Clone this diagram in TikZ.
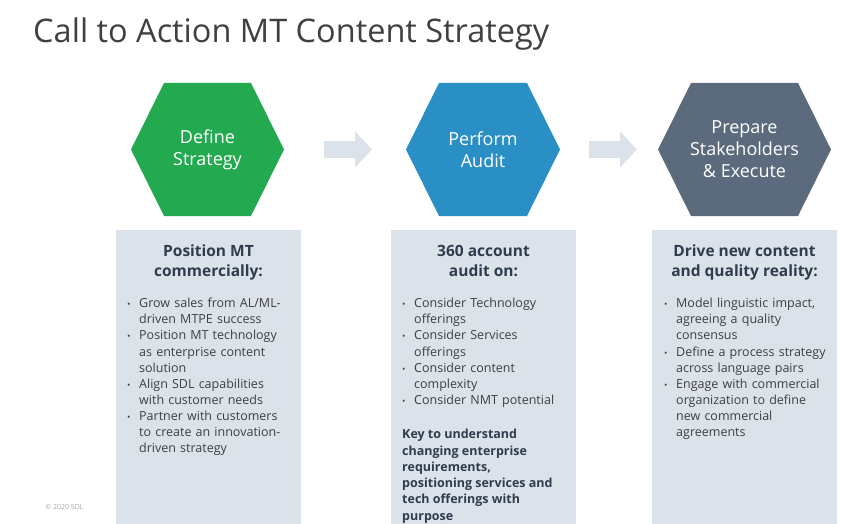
\documentclass[tikz,border=0pt]{standalone}
\usepackage{fontspec}
\setmainfont{Open Sans}
\usepackage{tikz}
\usetikzlibrary{arrows.meta,positioning,calc}
\definecolor{sdlgreen}{HTML}{23A950}
\definecolor{sdlblue}{HTML}{2A8FC4}
\definecolor{sdlslate}{HTML}{5B6B7D}
\definecolor{panelgray}{HTML}{DBE2EA}
\definecolor{headnavy}{HTML}{2F3C4D}
\definecolor{bodygray}{HTML}{3F3F3F}
\definecolor{titlegray}{HTML}{404040}
\newcommand{\bitem}[1]{\hangindent=12pt\hangafter=1\noindent\makebox[12pt][l]{\fontsize{9}{9}\selectfont\textbullet}#1\par}
\tikzset{
  hexnode/.style={minimum height=133pt,inner sep=0pt,outer sep=0pt,align=center,text=white,font=\fontsize{18}{22}\selectfont,
    path picture={\fill[#1] (path picture bounding box.west) -- ([xshift=33pt]path picture bounding box.north west)
      -- ([xshift=-33pt]path picture bounding box.north east) -- (path picture bounding box.east)
      -- ([xshift=-33pt]path picture bounding box.south east) -- ([xshift=33pt]path picture bounding box.south west) -- cycle;}},
  panel/.style={fill=panelgray,minimum width=185pt,minimum height=294pt,inner sep=0pt,outer sep=0pt},
  panelhead/.style={anchor=north,align=center,font=\bfseries\fontsize{15.5}{20}\selectfont,text=headnavy,inner sep=0pt},
  bullets/.style={anchor=north west,text width=178pt,align=left,font=\fontsize{12.5}{16.1}\selectfont,text=bodygray,inner sep=0pt},
  keynote/.style={anchor=north west,align=left,font=\bfseries\fontsize{12.5}{16.3}\selectfont,text=headnavy,inner sep=0pt},
  blockarr/.style={draw=panelgray,line width=17pt,-{Triangle[width=35pt,length=17pt]}},
}
\begin{document}
\begin{tikzpicture}[x=1pt,y=-1pt]
\useasboundingbox (0,0) rectangle (861,524);
\node[anchor=base west,font=\fontsize{32.5}{39}\selectfont,text=titlegray,inner sep=0pt] (title) at (33,43) {Call to Action MT Content Strategy};
% the three steps
\node[hexnode=sdlgreen,minimum width=153pt] (define) at (207.5,149.5) {Define\\Strategy};
\node[hexnode=sdlblue,minimum width=154pt] (audit) at (483,149.5) {Perform\\Audit};
\node[hexnode=sdlslate,minimum width=173pt] (prepare) at (744.5,149.5) {Prepare\\Stakeholders\\\& Execute};
\draw[blockarr] ([xshift=40pt]define.east) -- ([xshift=-34pt]audit.west);
\draw[blockarr] ([xshift=29pt]audit.east) -- ([xshift=-21pt]prepare.west);
% panels below
\node[panel] (posbox) at (208.5,377) {};
\node[panel] (auditbox) at (483.5,377) {};
\node[panel] (drivebox) at (744.5,377) {};
\node[panelhead] (poshead) at (208.5,245) {Position MT\\commercially:};
\node[panelhead] (audithead) at (483.5,245) {360 account\\audit on:};
\node[panelhead] (drivehead) at (744.5,245) {Drive new content\\and quality reality:};
\node[bullets] (poslist) at (127,298) {\bitem{Grow sales from AL/ML-\newline driven MTPE success}\bitem{Position MT technology\newline as enterprise content\newline solution}\bitem{Align SDL capabilities\newline with customer needs}\bitem{Partner with customers\newline to create an innovation-\newline driven strategy}};
\node[bullets] (auditlist) at (402,298) {\bitem{Consider Technology\newline offerings}\bitem{Consider Services\newline offerings}\bitem{Consider content\newline complexity}\bitem{Consider NMT potential}};
\node[keynote] (auditkey) at (402,429) {Key to understand\\changing enterprise\\requirements,\\positioning services and\\tech offerings with\\purpose};
\node[bullets] (drivelist) at (664,298) {\bitem{Model linguistic impact,\newline agreeing a quality\newline consensus}\bitem{Define a process strategy\newline across language pairs}\bitem{Engage with commercial\newline organization to define\newline new commercial\newline agreements}};
\node[font=\fontsize{7}{8}\selectfont,text=black!35,inner sep=0pt] (copy) at (64.5,507) {© 2020 SDL};
\end{tikzpicture}
\end{document}
